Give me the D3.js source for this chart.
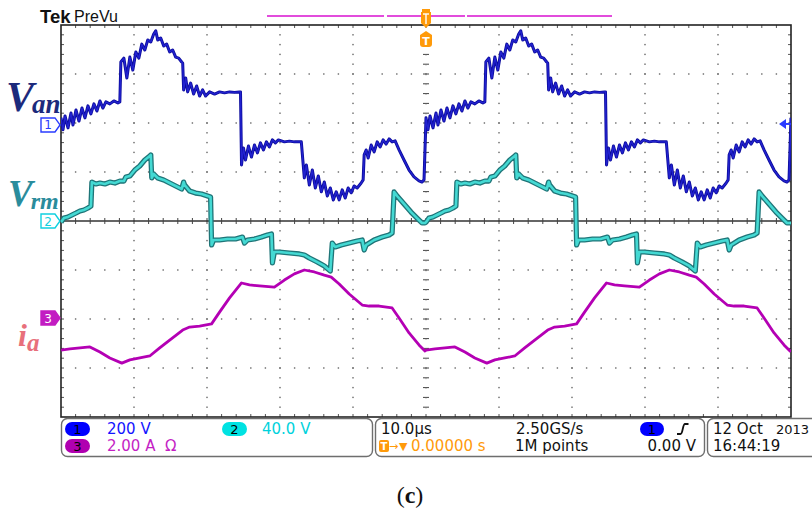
<!DOCTYPE html>
<html><head><meta charset="utf-8">
<script src="https://cdn.jsdelivr.net/npm/d3@7"></script>
<style>html,body{margin:0;padding:0;background:#fff;} svg{display:block;} text{white-space:pre;}</style>
</head><body>
<svg id="c" width="812" height="513"></svg>
<script>
// ---------- DATA (time in µs, values in V or A) ----------
const periodStarts = [0, 50];          // the capture shows two identical 50 µs periods
const timePerDiv = 10;                 // µs/div
const channelNames = ["1", "2", "3"];
const channelScale = [200, 40, 2];     // V/div, V/div, A/div
const channelPos = [1.96, 0, -1.98];   // ground marker position (div)
const channelLabels = ["200 V", "40.0 V", "2.00 A  \u03A9"];

const vanData = [
 [0,29],[0.27,-20],[0.55,37],[0.96,-12],[1.37,49],[1.64,0],[2.05,61],[2.46,16],[2.87,69],[3.28,29],[3.69,78],[4.10,45],[4.51,86],[4.92,57],[5.33,98],[5.74,69],[6.15,94],[6.69,86],[7.24,98],[7.79,90],[8.06,94],
 [8.20,257],[8.61,273],[9.02,192],[9.43,277],[9.84,224],[10.25,298],[10.66,273],[11.07,330],[11.48,306],[11.89,347],[12.30,339],[12.70,371],[12.98,384],[13.25,347],[13.66,355],[14.07,322],[14.48,330],[14.89,298],[15.30,306],[15.71,277],[16.12,273],[16.53,257],
 [16.67,253],[16.80,143],[17.08,192],[17.35,135],[17.76,171],[18.17,126],[18.58,159],[18.99,118],[19.40,143],[19.81,118],[20.36,135],[21.04,126],[21.72,135],[22.40,131],[23.09,135],[23.77,133],[24.45,135],
 [24.59,135],[24.73,-163],[25.00,-94],[25.27,-143],[25.68,-86],[26.09,-131],[26.50,-82],[26.91,-114],[27.32,-73],[27.73,-102],[28.14,-69],[28.55,-90],[28.96,-61],[29.37,-73],[29.78,-61],[30.60,-69],[31.28,-66],[31.97,-69],[32.92,-69],
 [33.33,-216],[33.61,-163],[34.02,-245],[34.43,-184],[34.84,-257],[35.25,-208],[35.66,-273],[36.07,-233],[36.48,-290],[36.89,-257],[37.30,-306],[37.70,-273],[38.11,-306],[38.52,-265],[38.93,-298],[39.34,-257],[39.75,-277],[40.16,-249],[40.57,-257],[41.12,-237],[41.39,-224],
 [41.53,-122],[41.80,-102],[42.08,-135],[42.49,-82],[42.90,-110],[43.31,-69],[43.72,-90],[44.13,-61],[44.54,-78],[44.95,-57],[45.36,-69],[45.77,-65],[46.31,-102],[46.99,-143],[47.68,-184],[48.36,-212],[49.04,-228],[49.45,-233],[49.73,-224]
];
const vrmData = [
 [0,-1],[0.41,2.4],[0.96,3.3],[1.50,4.9],[2.05,6.5],[2.60,8.2],[3.14,9.0],[3.69,10.6],[4.10,12.2],[4.23,31.8],[4.78,30.2],[5.33,31.0],[6.01,30.2],[6.69,31.8],[7.38,31.0],[8.06,32.6],[8.61,32.6],[8.88,35.9],[9.43,36.7],[10.11,41.6],[10.79,44.9],[11.48,49.8],[12.16,53.0],[12.30,53.9],
 [12.43,35.1],[12.70,38.4],[13.25,35.1],[14.07,33.5],[14.89,31.0],[15.71,28.6],[16.53,26.1],[16.80,31.8],[16.94,29.4],[17.62,24.5],[18.44,22.8],[19.26,22.0],[20.08,20.4],[20.49,19.6],
 [20.63,-19.6],[20.90,-15.5],[21.72,-15.5],[22.81,-14.7],[23.91,-14.7],[24.86,-13.1],[25.14,-18.0],[25.55,-15.5],[26.50,-14.7],[27.46,-13.1],[28.28,-11.4],[28.83,-10.6],
 [28.96,-34.3],[29.23,-25.3],[29.92,-25.3],[31.28,-26.1],[32.65,-26.9],[33.33,-27.7],[34.02,-30.2],[35.11,-33.5],[36.07,-36.7],[36.89,-40.8],
 [37.16,-18.0],[37.57,-21.2],[38.39,-19.6],[39.48,-18.0],[40.57,-16.3],[41.26,-15.5],[41.53,-23.7],[41.80,-19.6],[42.90,-15.5],[43.99,-13.1],[44.95,-11.4],[45.36,-9.8],
 [45.63,23.7],[46.04,20.4],[46.99,13.9],[47.95,7.3],[48.77,2.4],[49.45,-1.6],[49.86,-1.6]
];
const iaData = [
 [0,-1.31],[1.23,-1.26],[2.60,-1.22],[3.96,-1.18],[5.33,-1.39],[6.69,-1.63],[8.33,-1.84],[9.43,-1.71],[10.79,-1.63],[12.16,-1.55],[13.52,-1.22],[14.89,-0.90],[16.67,-0.49],[17.62,-0.37],[18.99,-0.33],[20.63,-0.24],
 [21.72,0.24],[23.09,0.82],[24.73,1.43],[25.82,1.35],[27.19,1.31],[29.23,1.26],[30.60,1.55],[31.97,1.80],[33.33,1.96],[34.70,1.88],[36.07,1.75],[37.02,1.67],[38.11,1.39],[39.48,0.98],[41.26,0.53],[42.21,0.49],[43.58,0.49],[45.36,0.41],[46.31,0],[47.68,-0.61],[49.04,-1.10],[49.86,-1.35]
];
const timebaseText = "10.0\u00B5s";
const sampleRateText = "2.50GS/s";
const recordText = "1M points";
const triggerPosText = "0.00000 s";
const triggerLevelText = "0.00 V";
const dateText = ["12 Oct", "2013"];
const timeText = "16:44:19";

// ---------- LAYOUT ----------
const L = 61, R = 791, T = 25, B = 417;
const svg = d3.select("#c");
const x = d3.scaleLinear().domain([0, 10 * timePerDiv]).range([L, R]);
const y = d3.scaleLinear().domain([-4, 4]).range([B, T]);
const g = svg.append("g");

// graticule dots
const grid = g.append("g");
d3.range(1, 10).filter(i => i !== 5).forEach(i => {
  d3.range(1, 40).forEach(k => {
    grid.append("rect").attr("x", x(i * timePerDiv) - 0.7).attr("y", y(-4 + k * 0.2) - 0.7)
      .attr("width", 1.4).attr("height", 1.4).attr("fill", "#666");
  });
});
[-3, -2, -1, 1, 2, 3].forEach(j => {
  d3.range(1, 50).forEach(k => {
    grid.append("rect").attr("x", x(k * timePerDiv / 5) - 0.7).attr("y", y(j) - 0.7)
      .attr("width", 1.4).attr("height", 1.4).attr("fill", "#666");
  });
});
// center lines
grid.append("line").attr("x1", L).attr("x2", R).attr("y1", y(0)).attr("y2", y(0)).attr("stroke", "#333").attr("stroke-width", 1.6);
d3.range(1, 50).forEach(k => {
  const xx = x(k * timePerDiv / 5);
  grid.append("line").attr("x1", xx).attr("x2", xx).attr("y1", y(0) - 3).attr("y2", y(0) + 3).attr("stroke", "#444").attr("stroke-width", 1);
  grid.append("line").attr("x1", xx).attr("x2", xx).attr("y1", T).attr("y2", T + 3).attr("stroke", "#555").attr("stroke-width", 1);
  grid.append("line").attr("x1", xx).attr("x2", xx).attr("y1", B - 3).attr("y2", B).attr("stroke", "#555").attr("stroke-width", 1);
});
d3.range(1, 40).forEach(k => {
  const yy = y(-4 + k * 0.2);
  grid.append("line").attr("x1", x(50) - 3).attr("x2", x(50) + 3).attr("y1", yy).attr("y2", yy).attr("stroke", "#444").attr("stroke-width", 1);
  grid.append("line").attr("x1", L).attr("x2", L + 3).attr("y1", yy).attr("y2", yy).attr("stroke", "#555").attr("stroke-width", 1);
  grid.append("line").attr("x1", R - 3).attr("x2", R).attr("y1", yy).attr("y2", yy).attr("stroke", "#555").attr("stroke-width", 1);
});
grid.append("line").attr("x1", x(50)).attr("x2", x(50)).attr("y1", T).attr("y2", B).attr("stroke", "#777").attr("stroke-width", 0.6).attr("stroke-dasharray", "1.4 8.4");
grid.append("rect").attr("x", L).attr("y", T).attr("width", R - L).attr("height", B - T)
  .attr("fill", "none").attr("stroke", "#222").attr("stroke-width", 1.6);

// traces
svg.append("clipPath").attr("id", "clip").append("rect").attr("x", L).attr("y", T).attr("width", R - L).attr("height", B - T);
const traces = g.append("g").attr("clip-path", "url(#clip)");
function series(data) {
  const out = [];
  periodStarts.forEach(p => data.forEach(d => out.push([d[0] + p, d[1]])));
  out.push([10 * timePerDiv, data[0][1]]);
  return out;
}
function lineFor(ch) {
  return d3.line().x(d => x(d[0])).y(d => y(channelPos[ch] + d[1] / channelScale[ch]));
}
const vrm = series(vrmData);
traces.append("path").attr("d", lineFor(1)(vrm)).attr("fill", "none").attr("stroke", "#1f7578").attr("stroke-width", 5.2).attr("stroke-linejoin", "round");
traces.append("path").attr("d", lineFor(1)(vrm)).attr("fill", "none").attr("stroke", "#44d9d3").attr("stroke-width", 2.6).attr("stroke-linejoin", "round");
const van = series(vanData);
traces.append("path").attr("d", lineFor(0)(van)).attr("fill", "none").attr("stroke", "#0c0c9c").attr("stroke-width", 3).attr("stroke-linejoin", "round");
traces.append("path").attr("d", lineFor(0)(van)).attr("fill", "none").attr("stroke", "#2222d0").attr("stroke-width", 1.4).attr("stroke-linejoin", "round");
const ia = series(iaData);
traces.append("path").attr("d", lineFor(2)(ia)).attr("fill", "none").attr("stroke", "#b400b4").attr("stroke-width", 2.8).attr("stroke-linejoin", "round");

// channel markers
const markerStroke = ["#2a3cff", "#10d0e0", "#c21cc2"];
channelNames.forEach((n, i) => {
  const yy = y(channelPos[i]);
  const filled = i === 2;
  g.append("path").attr("d", `M41,${yy - 7}h14l5,7l-5,7h-14z`)
    .attr("fill", filled ? markerStroke[i] : "#fff").attr("stroke", markerStroke[i]).attr("stroke-width", 1.4);
  g.append("text").attr("x", 48).attr("y", yy + 4.5).attr("text-anchor", "middle")
    .attr("font-family", "DejaVu Sans").attr("font-size", 12)
    .attr("fill", filled ? "#fff" : markerStroke[i]).text(n);
});
// trigger level arrow (right)
const trigY = y(channelPos[0]) - 1;
g.append("path").attr("d", `M779,${trigY}l7,-5v10z`).attr("fill", "#2a3cff");
g.append("line").attr("x1", 785).attr("x2", 791).attr("y1", trigY).attr("y2", trigY).attr("stroke", "#2a3cff").attr("stroke-width", 2);

// left labels
const serif = "'Liberation Serif','Times New Roman',serif";
function label(xp, yp, big, sub, sizeB, sizeS, dxs, dys, col) {
  const t = svg.append("text").attr("x", xp).attr("y", yp).attr("font-family", serif)
    .attr("font-style", "italic").attr("font-weight", "bold").attr("fill", col);
  t.append("tspan").attr("font-size", sizeB).text(big);
  t.append("tspan").attr("font-size", sizeS).attr("dx", dxs).attr("dy", dys).text(sub);
}
label(6, 111, "V", "an", 42, 27, -2, 2, "#1c2a7c");
label(8, 206, "V", "rm", 37, 24, -2, 3, "#2a8c9c");
label(18, 346, "i", "a", 32, 25, 0, 5, "#e8707c");

// header
svg.append("text").attr("x", 40).attr("y", 23).attr("font-family", "'Liberation Sans',Arial,sans-serif")
  .attr("font-weight", "bold").attr("font-size", 18.5).attr("fill", "#111").text("Tek");
svg.append("text").attr("x", 74).attr("y", 22).attr("font-family", "'Liberation Sans',Arial,sans-serif")
  .attr("font-size", 16).attr("fill", "#111").text("PreVu");
[[267, 384], [387, 465], [467, 612]].forEach(s => {
  svg.append("line").attr("x1", s[0]).attr("x2", s[1]).attr("y1", 16).attr("y2", 16).attr("stroke", "#e24cdc").attr("stroke-width", 2);
});
const tx = x(50);
const orange = "#ff9a0a";
svg.append("rect").attr("x", tx - 4).attr("y", 9).attr("width", 8).attr("height", 3).attr("fill", orange);
svg.append("path").attr("d", `M${tx - 5},12h10v11l-5,5l-5,-5z`).attr("fill", orange);
svg.append("line").attr("x1", tx).attr("x2", tx).attr("y1", 14).attr("y2", 24).attr("stroke", "#fff").attr("stroke-width", 1.4);
svg.append("line").attr("x1", tx - 3).attr("x2", tx + 3).attr("y1", 14).attr("y2", 14).attr("stroke", "#fff").attr("stroke-width", 1.4);
svg.append("path").attr("d", `M${tx},31l6,4v9q0,3,-3,3h-6q-3,0,-3,-3v-9z`).attr("fill", orange);
svg.append("text").attr("x", tx).attr("y", 45).attr("text-anchor", "middle").attr("font-family", "DejaVu Sans")
  .attr("font-weight", "bold").attr("font-size", 11).attr("fill", "#fff").text("T");

// status bar
const sb = svg.append("g").attr("font-family", "'DejaVu Sans',sans-serif").attr("font-size", 15);
[[61.5, 311], [375.5, 329], [707.5, 112]].forEach(b => {
  sb.append("rect").attr("x", b[0]).attr("y", 418.5).attr("width", b[1]).attr("height", 38).attr("rx", 6)
    .attr("fill", "none").attr("stroke", "#6e6e6e").attr("stroke-width", 1.4);
});
const pillFill = ["#0000ff", "#00e2e2", "#b000b0"];
const pillPos = [[65, 422], [222, 422], [65, 439]];
const textFill = ["#1414ff", "#00d2dc", "#c41ec4"];
const textPos = [[107, 434], [262, 434], [107, 451]];
channelNames.forEach((n, i) => {
  sb.append("rect").attr("x", pillPos[i][0]).attr("y", pillPos[i][1]).attr("width", 25).attr("height", 14).attr("rx", 7).attr("fill", pillFill[i]);
  sb.append("text").attr("x", pillPos[i][0] + 12.5).attr("y", pillPos[i][1] + 12).attr("text-anchor", "middle").attr("font-size", 13).attr("fill", "#000").text(n);
  sb.append("text").attr("x", textPos[i][0]).attr("y", textPos[i][1]).attr("fill", textFill[i]).text(channelLabels[i]);
});
sb.append("text").attr("x", 381).attr("y", 434).attr("fill", "#111").text(timebaseText);
sb.append("text").attr("x", 516).attr("y", 434).attr("fill", "#111").text(sampleRateText);
sb.append("text").attr("x", 515).attr("y", 451).attr("fill", "#111").text(recordText);
sb.append("text").attr("x", 696).attr("y", 451).attr("text-anchor", "end").attr("fill", "#111").text(triggerLevelText);
sb.append("rect").attr("x", 640).attr("y", 422).attr("width", 24).attr("height", 14).attr("rx", 7).attr("fill", "#0000ff");
sb.append("text").attr("x", 652).attr("y", 434).attr("text-anchor", "middle").attr("font-size", 13).attr("fill", "#000").text(channelNames[0]);
sb.append("path").attr("d", "M677,434h3.5c2.5,0,2,-10,4.5,-10h3.5").attr("fill", "none").attr("stroke", "#111").attr("stroke-width", 1.8);
// trigger position
sb.append("rect").attr("x", 379).attr("y", 440).attr("width", 10).attr("height", 12).attr("rx", 2).attr("fill", orange);
sb.append("text").attr("x", 384).attr("y", 450).attr("text-anchor", "middle").attr("font-size", 10).attr("font-weight", "bold").attr("fill", "#fff").text("T");
sb.append("text").attr("x", 389).attr("y", 450).attr("font-size", 11).attr("fill", orange).text("\u2192");
sb.append("text").attr("x", 399).attr("y", 450).attr("font-size", 11).attr("fill", orange).text("\u25BC");
sb.append("text").attr("x", 411).attr("y", 451).attr("fill", orange).text(triggerPosText);
sb.append("text").attr("x", 713).attr("y", 434).attr("fill", "#111").text(dateText[0]);
sb.append("text").attr("x", 776).attr("y", 434).attr("font-size", 13).attr("fill", "#111").text(dateText[1]);
sb.append("text").attr("x", 713).attr("y", 451).attr("fill", "#111").text(timeText);

// caption
const cap = svg.append("text").attr("x", 410).attr("y", 503).attr("text-anchor", "middle")
  .attr("font-family", serif).attr("font-size", 24).attr("fill", "#111");
cap.append("tspan").text("(");
cap.append("tspan").attr("font-weight", "bold").text("c");
cap.append("tspan").text(")");
</script>
</body></html>
